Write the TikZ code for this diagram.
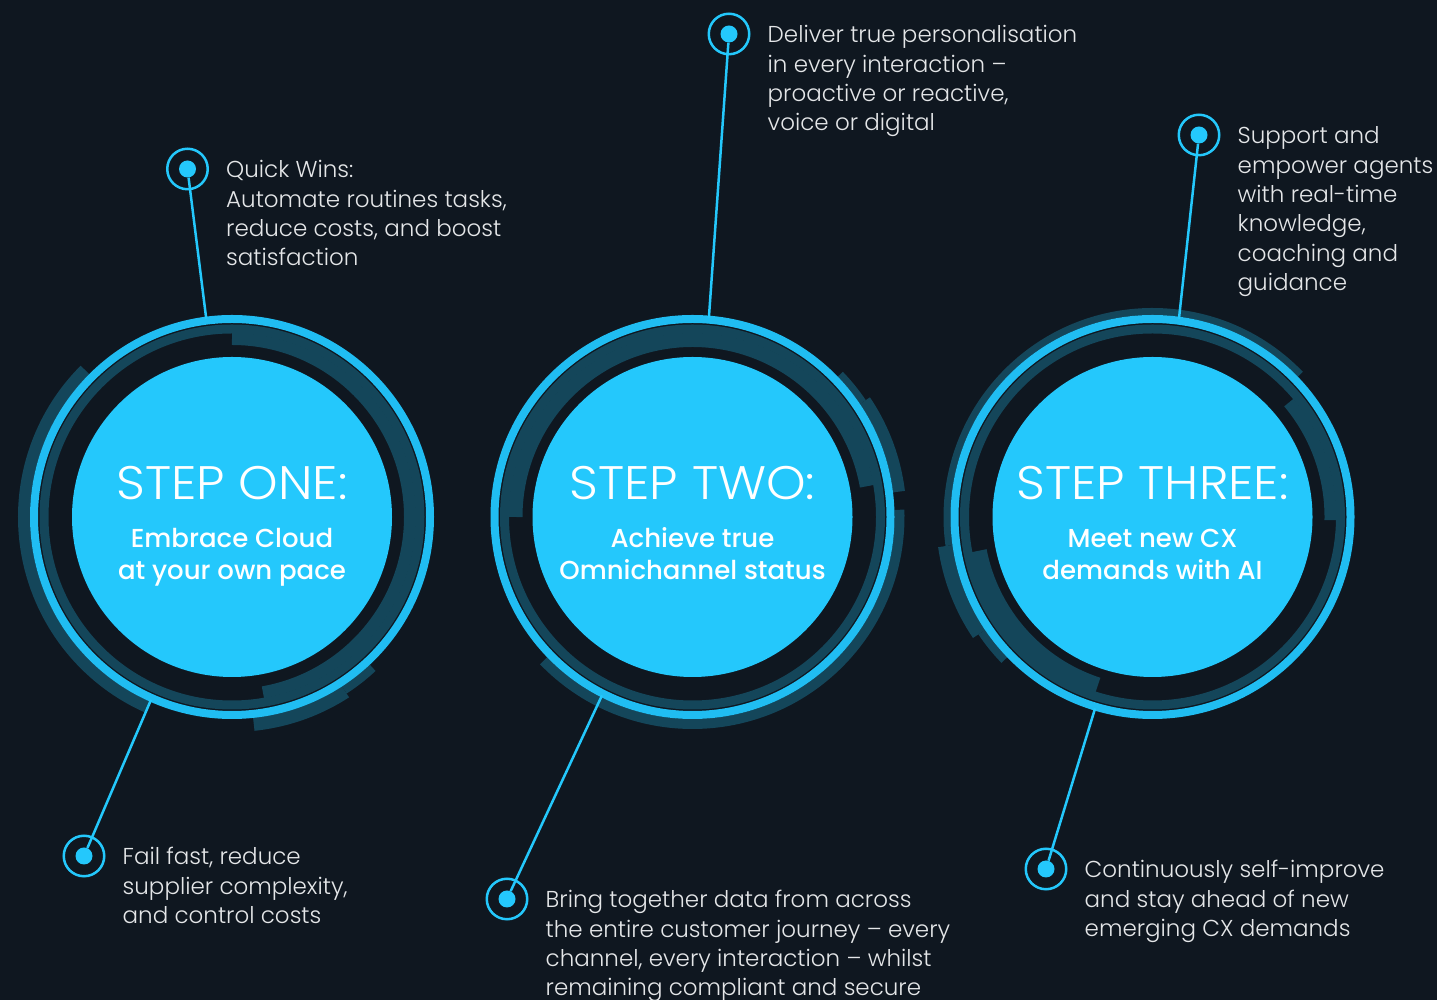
\documentclass[tikz,border=0pt]{standalone}
\usepackage{fontspec}
\setmainfont{Poppins Light}
\newfontfamily\subfont{Poppins Medium}
\newfontfamily\titlefont{Poppins Light}[FakeStretch=1.07]
\usetikzlibrary{calc}
\definecolor{night}{HTML}{0F1720}
\definecolor{sky}{HTML}{24C8FC}
\definecolor{rim}{HTML}{20BDF2}
\definecolor{deepteal}{HTML}{14465A}
\definecolor{paper}{HTML}{E4E6E8}
\newcommand{\ringarc}[4]{\draw[band,line width=#4pt] (#1:#3) arc[start angle=#1,end angle=#2,radius=#3];}
\tikzset{
  band/.style={draw=deepteal},
  rimline/.style={draw=rim,line width=8pt},
  disk/.style={circle,fill=sky,minimum size=320pt,inner sep=0pt},
  steptitle/.style={text=white,inner sep=0pt,font=\titlefont\fontsize{47}{52}\selectfont},
  stepsub/.style={text=white,inner sep=0pt,align=center,font=\subfont\fontsize{26}{32.5}\selectfont},
  marker/.style={circle,draw=sky,line width=2.5pt,minimum size=40.5pt,inner sep=0pt},
  dot/.style={circle,fill=sky,minimum size=17pt,inner sep=0pt},
  lead/.style={draw=sky,line width=2.5pt},
  note/.style={anchor=north west,inner sep=0pt,text=paper,align=left,font=\fontsize{23}{29.4}\selectfont}
}

\begin{document}
\begin{tikzpicture}[x=1pt,y=1pt]
\useasboundingbox (0,0) rectangle (1437,1000);
\fill[night] (0,0) rectangle (1437,1000);

\begin{scope}[shift={(232,483)}]
\ringarc{135}{246}{208}{12}
\ringarc{-84}{-57}{208}{14}
\ringarc{-57}{-47}{206}{9}
\draw[band,line width=9pt] (0,0) circle[radius=188];
\ringarc{90}{-80}{178}{12}
\draw[rimline] (0,0) circle[radius=198];
\node[disk] (s1) at (0,0) {};
\node[steptitle,anchor=base] (h1) at (0,17) {STEP ONE:};
\node[stepsub,anchor=north] (b1) at (0,-7.5) {\strut Embrace Cloud\\at your own pace};
\end{scope}

\begin{scope}[shift={(692.5,483)}]
\ringarc{224}{362}{207}{10}
\ringarc{44}{34}{205.5}{7}
\ringarc{34}{7}{208}{12}
\draw[band,line width=9pt] (0,0) circle[radius=188];
\ringarc{180}{10}{177}{14}
\draw[rimline] (0,0) circle[radius=198];
\node[disk] (s2) at (0,0) {};
\node[steptitle,anchor=base] (h2) at (0,17) {STEP TWO:};
\node[stepsub,anchor=north] (b2) at (0,-7.5) {\strut Achieve true\\Omnichannel status};
\end{scope}

\begin{scope}[shift={(1152.5,483)}]
\ringarc{44}{188}{205.5}{7}
\ringarc{188}{214}{209}{15}
\ringarc{214}{224}{206}{8}
\draw[band,line width=9pt] (0,0) circle[radius=188];
\ringarc{40}{-1}{178}{12}
\ringarc{191}{252}{177}{16}
\draw[rimline] (0,0) circle[radius=198];
\node[disk] (s3) at (0,0) {};
\node[steptitle,anchor=base] (h3) at (0,17) {STEP THREE:};
\node[stepsub,anchor=north] (b3) at (0,-7.5) {\strut Meet new CX\\demands with AI};
\end{scope}

\node[marker] (m1) at (187.5,831) {};
\node[dot] (d1) at (m1) {};
\node[note] (n1) at ($(m1)+(38.5,12)$) {\strut Quick Wins:\\Automate routines tasks,\\reduce costs, and boost\\satisfaction};
\path (s1) ++(97.4:200) coordinate (p1);
\draw[lead] (d1) -- (p1);

\node[marker] (m2) at (729,966) {};
\node[dot] (d2) at (m2) {};
\node[note] (n2) at ($(m2)+(38.5,12)$) {\strut Deliver true personalisation\\in every interaction –\\proactive or reactive,\\voice or digital};
\path (s2) ++(85.3:200) coordinate (p2);
\draw[lead] (d2) -- (p2);

\node[marker] (m3) at (1199,865) {};
\node[dot] (d3) at (m3) {};
\node[note] (n3) at ($(m3)+(38.5,12)$) {\strut Support and\\empower agents\\with real-time\\knowledge,\\coaching and\\guidance};
\path (s3) ++(82.4:200) coordinate (p3);
\draw[lead] (d3) -- (p3);

\node[marker] (m4) at (84,144) {};
\node[dot] (d4) at (m4) {};
\node[note] (n4) at ($(m4)+(38.5,12)$) {\strut Fail fast, reduce\\supplier complexity,\\and control costs};
\path (s1) ++(-113.9:200) coordinate (p4);
\draw[lead] (d4) -- (p4);

\node[marker] (m5) at (507,101) {};
\node[dot] (d5) at (m5) {};
\node[note] (n5) at ($(m5)+(38.5,12)$) {\strut Bring together data from across\\the entire customer journey – every\\channel, every interaction – whilst\\remaining compliant and secure};
\path (s2) ++(-116.9:200) coordinate (p5);
\draw[lead] (d5) -- (p5);

\node[marker] (m6) at (1046,131) {};
\node[dot] (d6) at (m6) {};
\node[note] (n6) at ($(m6)+(38.5,12)$) {\strut Continuously self-improve\\and stay ahead of new\\emerging CX demands};
\path (s3) ++(-106.7:200) coordinate (p6);
\draw[lead] (d6) -- (p6);
\end{tikzpicture}
\end{document}
